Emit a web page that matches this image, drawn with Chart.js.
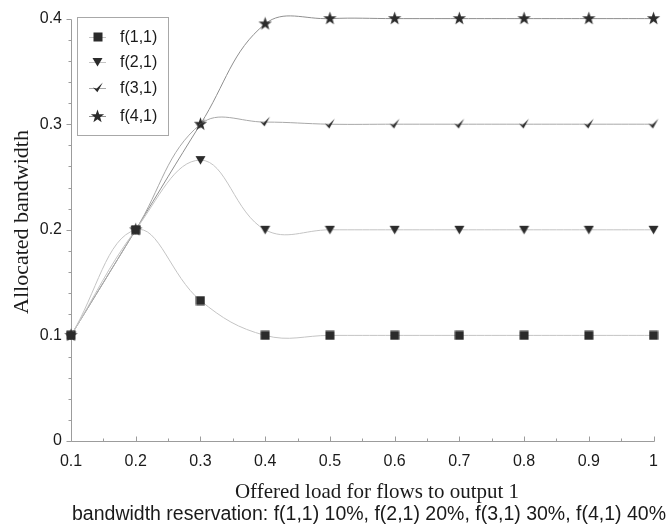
<!DOCTYPE html>
<html>
<head>
<meta charset="utf-8">
<script src="https://cdn.jsdelivr.net/npm/chart.js@4/dist/chart.umd.min.js"></script>
<style>
  html, body { margin: 0; padding: 0; background: #fff; }
  #wrap { width: 669px; height: 527px; }
</style>
</head>
<body>
<div id="wrap"><canvas id="c" width="669" height="527"></canvas></div>
<script>
// Offered load (x) and allocated bandwidth per flow (y)
const loads = [0.1, 0.2, 0.3, 0.4, 0.5, 0.6, 0.7, 0.8, 0.9, 1.0];
const f11 = [0.1, 0.2, 0.133, 0.1, 0.1, 0.1, 0.1, 0.1, 0.1, 0.1];
const f21 = [0.1, 0.2, 0.266, 0.2, 0.2, 0.2, 0.2, 0.2, 0.2, 0.2];
const f31 = [0.1, 0.2, 0.3, 0.302, 0.3, 0.3, 0.3, 0.3, 0.3, 0.3];
const f41 = [0.1, 0.2, 0.3, 0.395, 0.4, 0.4, 0.4, 0.4, 0.4, 0.4];
const seriesNames = ['f(1,1)', 'f(2,1)', 'f(3,1)', 'f(4,1)'];
const xTickLabels = ['0.1', '0.2', '0.3', '0.4', '0.5', '0.6', '0.7', '0.8', '0.9', '1'];
const yTickValues = [0, 0.1, 0.2, 0.3, 0.4];
const yTickLabels = ['0', '0.1', '0.2', '0.3', '0.4'];
const xTitle = 'Offered load for flows to output 1';
const yTitle = 'Allocated bandwidth';
const caption = 'bandwidth reservation: f(1,1) 10%, f(2,1) 20%, f(3,1) 30%, f(4,1) 40%';

const MARK = '#2b2b2b';
const SANS = '"Liberation Sans", Arial, sans-serif';
const SERIF = '"Liberation Serif", "Times New Roman", serif';

// ---- marker glyphs ----
function glyph(w, h, draw) {
  const c = document.createElement('canvas');
  c.width = w; c.height = h;
  const g = c.getContext('2d');
  g.fillStyle = MARK;
  g.translate(w / 2, h / 2);
  draw(g);
  return c;
}
const squareMark = glyph(10, 10, g => { g.fillRect(-4.5, -4.5, 9, 9); });
const triangleMark = glyph(11, 10, g => {
  g.beginPath(); g.moveTo(-5, -4); g.lineTo(5, -4); g.lineTo(0, 4.5); g.closePath(); g.fill();
});
const checkMark = glyph(12, 12, g => {
  g.beginPath();
  g.moveTo(-5, -0.5); g.lineTo(-1.5, 0.8); g.lineTo(4.8, -5.5); g.lineTo(-0.6, 4.2); g.closePath(); g.fill();
});
const starMark = glyph(15, 15, g => {
  g.beginPath();
  for (let i = 0; i < 10; i++) {
    const r = i % 2 === 0 ? 7 : 2.8;
    const a = -Math.PI / 2 + i * Math.PI / 5;
    g.lineTo(r * Math.cos(a), r * Math.sin(a));
  }
  g.closePath(); g.fill();
});

const marks = [squareMark, triangleMark, checkMark, starMark];
const lineColors = ['#c4c4c4', '#c4c4c4', '#a8a8a8', '#8f8f8f'];
const values = [f11, f21, f31, f41];

const datasets = values.map((vals, i) => ({
  label: seriesNames[i],
  data: loads.map((x, k) => ({ x: x, y: vals[k] })),
  borderColor: lineColors[i],
  borderWidth: 1,
  pointStyle: marks[i],
  pointRadius: 5,
  pointHoverRadius: 5,
  tension: 0.4,
  fill: false,
  clip: false
}));

// ---- axes drawn with inward x ticks and outward y ticks ----
const axesPlugin = {
  id: 'axesDecor',
  beforeDatasetsDraw(chart) {
    const { ctx, chartArea: a, scales: { x, y } } = chart;
    ctx.save();
    ctx.strokeStyle = '#9c9c9c';
    ctx.lineWidth = 1;
    const left = Math.round(a.left) + 0.5;
    const bottom = Math.round(a.bottom) + 0.5;
    ctx.beginPath();
    ctx.moveTo(left, Math.round(y.getPixelForValue(0.4)) + 0.5);
    ctx.lineTo(left, bottom);
    ctx.lineTo(Math.round(x.getPixelForValue(1)) + 0.5, bottom);
    // y ticks (major + minor) pointing left
    for (let k = 0; k <= 20; k++) {
      const py = Math.round(y.getPixelForValue(k * 0.02)) + 0.5;
      const len = k % 5 === 0 ? 5 : 3;
      ctx.moveTo(left - len, py); ctx.lineTo(left, py);
    }
    // x ticks (major + minor) pointing up into the plot
    for (let k = 0; k <= 18; k++) {
      const px = Math.round(x.getPixelForValue(0.1 + k * 0.05)) + 0.5;
      const len = k % 2 === 0 ? 5 : 3;
      ctx.moveTo(px, bottom); ctx.lineTo(px, bottom - len);
    }
    ctx.stroke();
    ctx.restore();
  },
  afterDraw(chart) {
    const { ctx } = chart;
    ctx.save();
    ctx.fillStyle = '#1a1a1a';
    ctx.textAlign = 'center';
    ctx.textBaseline = 'middle';
    ctx.font = '21px ' + SERIF;
    ctx.fillText(xTitle, 377, 492);
    ctx.font = '19.5px ' + SANS;
    ctx.fillText(caption, 369, 515);
    ctx.translate(22, 222);
    ctx.rotate(-Math.PI / 2);
    ctx.font = '22px ' + SERIF;
    ctx.fillText(yTitle, 0, 0);
    ctx.restore();

    // legend box inside the plot
    ctx.save();
    ctx.strokeStyle = '#a8a8a8';
    ctx.lineWidth = 1;
    ctx.strokeRect(77.5, 17.5, 91, 118);
    const rows = [37, 62, 88, 116];
    ctx.font = '16px ' + SANS;
    ctx.textAlign = 'left';
    ctx.textBaseline = 'middle';
    rows.forEach((ry, i) => {
      ctx.strokeStyle = lineColors[i];
      ctx.beginPath(); ctx.moveTo(89, ry + 0.5); ctx.lineTo(106, ry + 0.5); ctx.stroke();
      const m = marks[i];
      ctx.drawImage(m, Math.round(97.5 - m.width / 2), Math.round(ry - m.height / 2));
      ctx.fillStyle = '#1a1a1a';
      ctx.fillText(seriesNames[i], 120, ry + 1);
    });
    ctx.restore();
  }
};

new Chart(document.getElementById('c'), {
  type: 'line',
  data: { datasets: datasets },
  options: {
    responsive: false,
    animation: false,
    devicePixelRatio: 1,
    layout: { padding: { left: 0, top: 17, right: 12, bottom: 0 } },
    elements: { line: { capBezierPoints: false } },
    plugins: { legend: { display: false }, tooltip: { enabled: false } },
    scales: {
      x: {
        type: 'linear',
        min: 0.1, max: 1,
        afterBuildTicks: s => { s.ticks = loads.map(v => ({ value: v })); },
        afterFit: s => { s.height = 86; },
        grid: { display: false, drawTicks: false },
        border: { display: false },
        ticks: {
          padding: 11,
          color: '#1a1a1a',
          font: { family: SANS, size: 16 },
          maxRotation: 0,
          autoSkip: false,
          callback: (v, i) => xTickLabels[i]
        }
      },
      y: {
        type: 'linear',
        min: 0, max: 0.4,
        afterBuildTicks: s => { s.ticks = yTickValues.map(v => ({ value: v })); },
        afterFit: s => { s.width = 71; },
        grid: { display: false, drawTicks: false },
        border: { display: false },
        ticks: {
          padding: 9,
          color: '#1a1a1a',
          font: { family: SANS, size: 16 },
          callback: (v, i) => yTickLabels[i]
        }
      }
    }
  },
  plugins: [axesPlugin]
});
</script>
</body>
</html>
